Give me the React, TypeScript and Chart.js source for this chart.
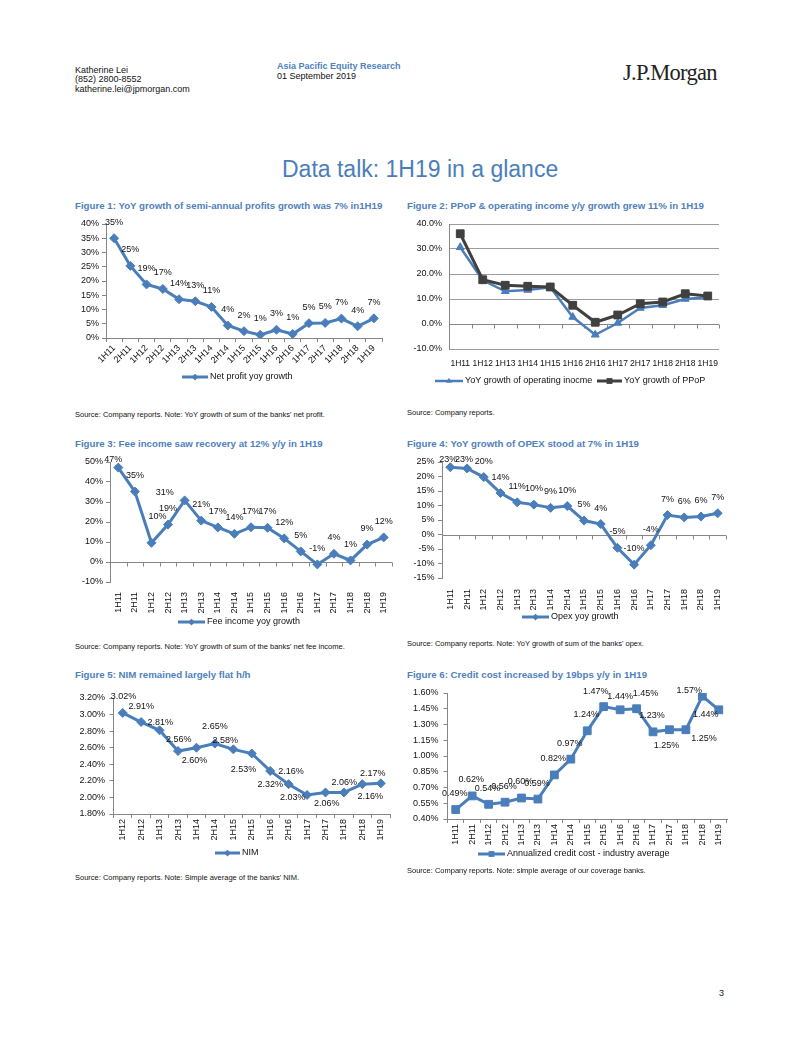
import React, { useEffect, useRef } from 'react';
import { Chart, registerables } from 'chart.js';

Chart.register(...registerables);

const FONT = '"Liberation Sans", Arial, Helvetica, sans-serif';
const BLUE = '#4A7EBB';
const TITLE_BLUE = '#4F81BD';
const DARK = '#404040';
const AXIS = '#868686';
const GRID = '#9C9C9C';
const TEXT = '#111111';

Chart.defaults.font.family = FONT;
Chart.defaults.color = TEXT;

// ---------------- data ----------------
const HALF_YEARS = ['1H11', '2H11', '1H12', '2H12', '1H13', '2H13', '1H14', '2H14', '1H15', '2H15', '1H16', '2H16', '1H17', '2H17', '1H18', '2H18', '1H19'];
const NET_PROFIT_YOY = [35.0, 25.3, 18.8, 17.2, 13.6, 12.9, 10.9, 4.4, 2.4, 1.1, 2.9, 1.4, 5.2, 5.3, 6.8, 4.1, 6.9];

const FIG2_PERIODS = ['1H11', '1H12', '1H13', '1H14', '1H15', '1H16', '2H16', '1H17', '2H17', '1H18', '2H18', '1H19'];
const OP_INCOME_YOY = [30.7, 17.5, 13.1, 13.6, 14.7, 2.8, -4.3, 0.4, 6.4, 7.5, 10.0, 10.7];
const PPOP_YOY = [36.1, 17.7, 15.5, 15.1, 14.8, 7.5, 0.7, 3.6, 8.1, 8.8, 12.1, 11.2];

const FEE_INCOME_YOY = [47.2, 35.2, 9.6, 18.7, 30.8, 20.7, 17.3, 14.1, 17.4, 17.1, 11.8, 5.3, -1.2, 4.1, 0.8, 8.7, 12.3];
const OPEX_YOY = [23.2, 22.8, 19.8, 14.3, 11.1, 10.3, 9.2, 9.8, 4.8, 3.6, -4.6, -10.4, -3.7, 6.7, 5.9, 6.2, 7.3];

const NIM_PERIODS = ['1H12', '2H12', '1H13', '2H13', '1H14', '2H14', '1H15', '2H15', '1H16', '2H16', '1H17', '2H17', '1H18', '2H18', '1H19'];
const NIM = [3.02, 2.91, 2.81, 2.56, 2.60, 2.65, 2.58, 2.53, 2.32, 2.16, 2.03, 2.06, 2.06, 2.16, 2.17];

const CREDIT_COST = [0.49, 0.62, 0.54, 0.56, 0.60, 0.59, 0.82, 0.97, 1.24, 1.47, 1.44, 1.45, 1.23, 1.25, 1.25, 1.57, 1.44];

// ---------------- helpers ----------------
type Series = { data: number[]; color: string; style: string; radius: number; width: number; order?: number };
type LegendItem = { x: number; y: number; len: number; text: string; series: number };
type ValueLabels = { fmt: (v: number) => string; def: [number, number]; nudge: Record<number, [number, number]> };
type Spec = {
  labels: string[];
  series: Series[];
  yMin: number; yMax: number; yStep: number; yFmt: (v: number) => string;
  yW: number; yPad: number; yGrid: boolean;
  xH: number; xRot: number; xBorder: boolean; xPad: number; xFont: number;
  pad: { top: number; right: number };
  zero: boolean;
  vals?: ValueLabels;
  legend: LegendItem[];
};

function drawMarker(ctx: CanvasRenderingContext2D, style: string, x: number, y: number, r: number) {
  ctx.beginPath();
  if (style === 'rectRot') {
    ctx.moveTo(x - r, y); ctx.lineTo(x, y - r); ctx.lineTo(x + r, y); ctx.lineTo(x, y + r);
  } else if (style === 'rect') {
    const s = r * Math.SQRT1_2;
    ctx.rect(x - s, y - s, 2 * s, 2 * s);
  } else {
    let a = 0;
    ctx.moveTo(x + Math.sin(a) * r, y - Math.cos(a) * r);
    a += (2 * Math.PI) / 3;
    ctx.lineTo(x + Math.sin(a) * r, y - Math.cos(a) * r);
    a += (2 * Math.PI) / 3;
    ctx.lineTo(x + Math.sin(a) * r, y - Math.cos(a) * r);
  }
  ctx.closePath();
  ctx.fill();
}

const zeroAxisPlugin = {
  id: 'zeroAxis',
  beforeDatasetsDraw(chart: any) {
    const { ctx, chartArea, scales } = chart;
    const y = Math.round(scales.y.getPixelForValue(0)) + 0.5;
    const n = chart.data.labels.length;
    ctx.save();
    ctx.strokeStyle = AXIS;
    ctx.lineWidth = 1;
    ctx.beginPath();
    ctx.moveTo(chartArea.left, y);
    ctx.lineTo(chartArea.right, y);
    for (let i = 0; i <= n; i++) {
      const x = Math.round(chartArea.left + ((chartArea.right - chartArea.left) * i) / n) + 0.5;
      ctx.moveTo(x, y);
      ctx.lineTo(x, y + 4);
    }
    ctx.stroke();
    ctx.restore();
  },
};

function valueLabelPlugin(cfg: ValueLabels) {
  return {
    id: 'valueLabels',
    afterDatasetsDraw(chart: any) {
      const meta = chart.getDatasetMeta(0);
      const data = chart.data.datasets[0].data as number[];
      const ctx = chart.ctx as CanvasRenderingContext2D;
      ctx.save();
      ctx.font = `9px ${FONT}`;
      ctx.fillStyle = TEXT;
      ctx.textAlign = 'center';
      ctx.textBaseline = 'middle';
      meta.data.forEach((pt: any, i: number) => {
        const [dx, dy] = cfg.nudge[i] ?? cfg.def;
        ctx.fillText(cfg.fmt(data[i]), pt.x + dx, pt.y + dy);
      });
      ctx.restore();
    },
  };
}

function legendPlugin(items: LegendItem[], series: Series[]) {
  return {
    id: 'xlLegend',
    afterDraw(chart: any) {
      const ctx = chart.ctx as CanvasRenderingContext2D;
      ctx.save();
      items.forEach((it) => {
        const se = series[it.series];
        ctx.strokeStyle = se.color;
        ctx.lineWidth = se.width;
        ctx.beginPath();
        ctx.moveTo(it.x, it.y);
        ctx.lineTo(it.x + it.len, it.y);
        ctx.stroke();
        ctx.fillStyle = se.color;
        drawMarker(ctx, se.style, it.x + it.len / 2, it.y, se.radius * 0.75);
        ctx.fillStyle = TEXT;
        ctx.font = `9px ${FONT}`;
        ctx.textAlign = 'left';
        ctx.textBaseline = 'middle';
        ctx.fillText(it.text, it.x + it.len + 2, it.y);
      });
      ctx.restore();
    },
  };
}

function buildConfig(s: Spec): any {
  const plugins: any[] = [];
  if (s.zero) plugins.push(zeroAxisPlugin);
  if (s.vals) plugins.push(valueLabelPlugin(s.vals));
  plugins.push(legendPlugin(s.legend, s.series));
  return {
    type: 'line',
    data: {
      labels: s.labels,
      datasets: s.series.map((se) => ({
        data: se.data,
        borderColor: se.color,
        backgroundColor: se.color,
        pointBackgroundColor: se.color,
        pointBorderColor: se.color,
        pointBorderWidth: 1,
        pointStyle: se.style,
        pointRadius: se.radius,
        borderWidth: se.width,
        tension: 0,
        fill: false,
        order: se.order ?? 0,
      })),
    },
    options: {
      responsive: false,
      animation: false,
      devicePixelRatio: 1,
      events: [],
      layout: { padding: { top: s.pad.top, right: s.pad.right, bottom: 0, left: 0 } },
      plugins: { legend: { display: false }, tooltip: { enabled: false } },
      scales: {
        x: {
          type: 'category',
          offset: true,
          grid: s.xBorder
            ? { display: true, offset: true, drawOnChartArea: false, drawTicks: true, tickLength: 4, color: AXIS }
            : { display: false, offset: true },
          border: { display: s.xBorder, color: AXIS },
          ticks: {
            autoSkip: false,
            minRotation: s.xRot,
            maxRotation: s.xRot,
            padding: s.xPad,
            color: TEXT,
            font: { size: s.xFont, family: FONT },
          },
          afterFit: (a: any) => { a.height = s.xH; },
        },
        y: {
          min: s.yMin,
          max: s.yMax,
          ticks: {
            stepSize: s.yStep,
            padding: s.yPad,
            color: TEXT,
            font: { size: 9, family: FONT },
            callback: (v: any) => s.yFmt(Number(v)),
          },
          grid: s.yGrid
            ? { drawOnChartArea: true, drawTicks: false, color: GRID }
            : { drawOnChartArea: false, drawTicks: true, tickLength: 4, color: AXIS },
          border: { display: true, color: AXIS },
          afterFit: (a: any) => { a.width = s.yW; },
        },
      },
    },
    plugins,
  };
}

function LineFigure({ left, top, width, height, spec }: { left: number; top: number; width: number; height: number; spec: Spec }) {
  const ref = useRef<HTMLCanvasElement>(null);
  useEffect(() => {
    const chart = new Chart(ref.current as HTMLCanvasElement, buildConfig(spec));
    return () => chart.destroy();
  }, []);
  return <canvas ref={ref} width={width} height={height} style={{ position: 'absolute', left, top, width, height }} />;
}

function Txt({ x, y, size, children, bold, color, family, ls }: { x: number; y: number; size: number; children: React.ReactNode; bold?: boolean; color?: string; family?: string; ls?: number }) {
  return (
    <div
      style={{
        position: 'absolute',
        left: x,
        top: y - size * 0.6,
        fontSize: size,
        lineHeight: `${size * 1.2}px`,
        whiteSpace: 'nowrap',
        fontWeight: bold ? 'bold' : 'normal',
        color: color ?? TEXT,
        fontFamily: family ?? FONT,
        letterSpacing: ls ?? 0,
      }}
    >
      {children}
    </div>
  );
}

const pct0 = (v: number) => `${Math.round(v)}%`;
const pct2 = (v: number) => `${v.toFixed(2)}%`;

const SPEC1: Spec = {
  labels: HALF_YEARS,
  series: [{ data: NET_PROFIT_YOY, color: BLUE, style: 'rectRot', radius: 4.5, width: 3 }],
  yMin: 0, yMax: 40, yStep: 5, yFmt: (v) => `${Math.round(v)}%`,
  yW: 36, yPad: 3, yGrid: false,
  xH: 57, xRot: 45, xBorder: true, xPad: 1, xFont: 9,
  pad: { top: 14, right: 18 },
  zero: false,
  vals: { fmt: pct0, def: [0, -16], nudge: {} },
  legend: [{ x: 112, y: 167, len: 26, text: 'Net profit yoy growth', series: 0 }],
};

const SPEC2: Spec = {
  labels: FIG2_PERIODS,
  series: [
    { data: OP_INCOME_YOY, color: BLUE, style: 'triangle', radius: 4.5, width: 2.5, order: 1 },
    { data: PPOP_YOY, color: DARK, style: 'rect', radius: 5.5, width: 3, order: 0 },
  ],
  yMin: -10, yMax: 40, yStep: 10, yFmt: (v) => `${v.toFixed(1)}%`,
  yW: 49, yPad: 7, yGrid: true,
  xH: 46, xRot: 0, xBorder: false, xPad: 2, xFont: 8.5,
  pad: { top: 14, right: 21 },
  zero: true,
  legend: [
    { x: 35, y: 171, len: 28, text: 'YoY growth of operating inocme', series: 0 },
    { x: 197, y: 171, len: 25, text: 'YoY growth of PPoP', series: 1 },
  ],
};

const SPEC3: Spec = {
  labels: HALF_YEARS,
  series: [{ data: FEE_INCOME_YOY, color: BLUE, style: 'rectRot', radius: 4.5, width: 3 }],
  yMin: -10, yMax: 50, yStep: 10, yFmt: (v) => `${Math.round(v)}%`,
  yW: 40, yPad: 3, yGrid: false,
  xH: 53, xRot: 90, xBorder: false, xPad: 2, xFont: 9,
  pad: { top: 12, right: 8 },
  zero: true,
  vals: { fmt: pct0, def: [0, -16], nudge: { 0: [-5, -8], 2: [6, -26], 4: [-20, -8] } },
  legend: [{ x: 108, y: 172, len: 27, text: 'Fee income yoy growth', series: 0 }],
};

const SPEC4: Spec = {
  labels: HALF_YEARS,
  series: [{ data: OPEX_YOY, color: BLUE, style: 'rectRot', radius: 4.5, width: 3 }],
  yMin: -15, yMax: 25, yStep: 5, yFmt: (v) => `${Math.round(v)}%`,
  yW: 42, yPad: 3.5, yGrid: false,
  xH: 57, xRot: 90, xBorder: false, xPad: 3, xFont: 9,
  pad: { top: 12, right: 14 },
  zero: true,
  vals: { fmt: pct0, def: [0, -16], nudge: { 0: [-2, -8], 1: [-3, -9] } },
  legend: [{ x: 122, y: 167, len: 27, text: 'Opex yoy growth', series: 0 }],
};

const SPEC5: Spec = {
  labels: NIM_PERIODS,
  series: [{ data: NIM, color: BLUE, style: 'rectRot', radius: 4.5, width: 3 }],
  yMin: 1.8, yMax: 3.2, yStep: 0.2, yFmt: (v) => `${v.toFixed(2)}%`,
  yW: 43.5, yPad: 4.5, yGrid: false,
  xH: 56, xRot: 90, xBorder: true, xPad: 1, xFont: 9,
  pad: { top: 18, right: 10 },
  zero: false,
  vals: {
    fmt: pct2,
    def: [0, -16],
    nudge: {
      0: [0.7, -16.7], 1: [0, -15.7], 2: [0.7, -8], 3: [0.7, -11.7], 4: [-2, 13], 5: [0, -16.7],
      6: [-8, -9.3], 7: [-8.3, 15.7], 8: [0, 13.7], 9: [2.3, -13], 10: [-14.3, 3], 11: [1.3, 11],
      12: [0.3, -10], 13: [8, 12], 14: [-8, -10],
    },
  },
  legend: [{ x: 145, y: 173, len: 25, text: 'NIM', series: 0 }],
};

const SPEC6: Spec = {
  labels: HALF_YEARS,
  series: [{ data: CREDIT_COST, color: BLUE, style: 'rect', radius: 5.5, width: 3 }],
  yMin: 0.4, yMax: 1.6, yStep: 0.15, yFmt: (v) => `${v.toFixed(2)}%`,
  yW: 47.5, yPad: 5, yGrid: false,
  xH: 51, xRot: 90, xBorder: true, xPad: 1, xFont: 9,
  pad: { top: 13, right: 13 },
  zero: false,
  vals: {
    fmt: pct2,
    def: [-1, -16],
    nudge: { 9: [-8, -14.7], 10: [0, -13.3], 11: [9, -15.7], 13: [-3, 16], 14: [18, 9], 15: [-13, -5.7], 16: [-13, 4.3] },
  },
  legend: [{ x: 78, y: 174, len: 27, text: 'Annualized credit cost - industry average', series: 0 }],
};

export default function App() {
  return (
    <div style={{ position: 'absolute', left: 0, top: 0, width: 802, height: 1037, background: '#fff', fontFamily: FONT, overflow: 'hidden' }}>
      {/* header */}
      <Txt x={75} y={70} size={9}>Katherine Lei</Txt>
      <Txt x={75} y={79.5} size={9}>(852) 2800-8552</Txt>
      <Txt x={75} y={89} size={9}>katherine.lei@jpmorgan.com</Txt>
      <Txt x={277} y={66} size={9} bold color={TITLE_BLUE}>Asia Pacific Equity Research</Txt>
      <Txt x={277} y={76} size={9}>01 September 2019</Txt>
      <Txt x={623} y={72} size={22.5} family='"Liberation Serif", "Times New Roman", serif' color="#222" ls={-0.7}>J.P.Morgan</Txt>

      <Txt x={282} y={170} size={23} color={BLUE}>Data talk: 1H19 in a glance</Txt>

      {/* figure titles */}
      <Txt x={75} y={206} size={9.7} bold color={TITLE_BLUE}>Figure 1: YoY growth of semi-annual profits growth was 7% in1H19</Txt>
      <Txt x={407} y={206} size={9.7} bold color={TITLE_BLUE}>Figure 2: PPoP &amp; operating income y/y growth grew 11% in 1H19</Txt>
      <Txt x={75} y={444} size={9.7} bold color={TITLE_BLUE}>Figure 3: Fee income saw recovery at 12% y/y in 1H19</Txt>
      <Txt x={407} y={443.5} size={9.7} bold color={TITLE_BLUE}>Figure 4: YoY growth of OPEX stood at 7% in 1H19</Txt>
      <Txt x={75} y={675} size={9.7} bold color={TITLE_BLUE}>Figure 5: NIM remained largely flat h/h</Txt>
      <Txt x={407} y={675} size={9.7} bold color={TITLE_BLUE}>Figure 6: Credit cost increased by 19bps y/y in 1H19</Txt>

      {/* charts */}
      <LineFigure left={70} top={210} width={330} height={185} spec={SPEC1} />
      <LineFigure left={400} top={210} width={340} height={185} spec={SPEC2} />
      <LineFigure left={70} top={450} width={330} height={185} spec={SPEC3} />
      <LineFigure left={400} top={450} width={340} height={185} spec={SPEC4} />
      <LineFigure left={70} top={680} width={330} height={190} spec={SPEC5} />
      <LineFigure left={400} top={680} width={340} height={190} spec={SPEC6} />

      {/* sources */}
      <Txt x={75} y={414} size={7.5}>Source: Company reports. Note: YoY growth of sum of the banks' net profit.</Txt>
      <Txt x={407} y={412} size={7.5}>Source: Company reports.</Txt>
      <Txt x={75} y={646} size={7.5}>Source: Company reports. Note: YoY growth of sum of the banks' net fee income.</Txt>
      <Txt x={407} y={643} size={7.5}>Source: Company reports. Note: YoY growth of sum of the banks' opex.</Txt>
      <Txt x={75} y={877} size={7.5}>Source: Company reports. Note: Simple average of the banks' NIM.</Txt>
      <Txt x={407} y={870} size={7.5}>Source: Company reports. Note: simple average of our coverage banks.</Txt>

      <Txt x={719} y={993} size={9}>3</Txt>
    </div>
  );
}
